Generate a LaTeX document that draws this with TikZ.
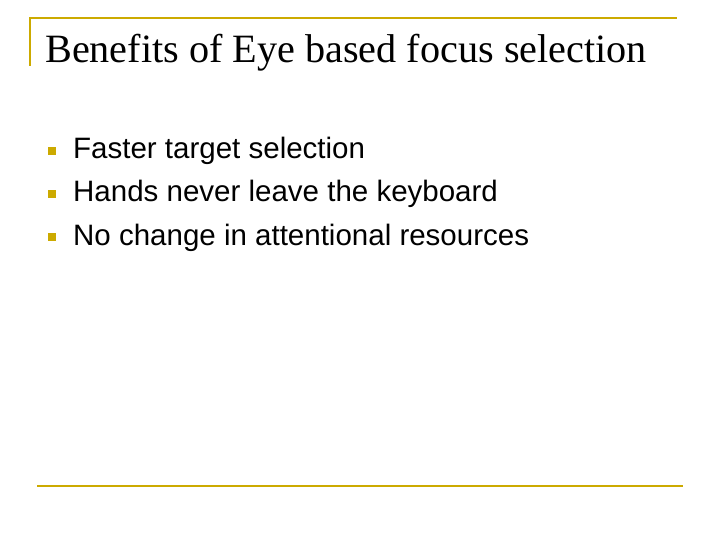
\documentclass[tikz,border=0pt]{standalone}
\usepackage{fontspec}
\setmainfont{Liberation Serif}
\newfontfamily\arial{Liberation Sans}
\definecolor{gold}{RGB}{204,170,0}
\begin{document}
\begin{tikzpicture}[x=1pt,y=-1pt,
  rule/.style={draw=gold,line width=1.5pt},
  bul/.style={fill=gold,minimum size=8pt,inner sep=0pt},
  item/.style={anchor=base west,inner sep=0pt,font=\arial\fontsize{29.5}{33}\selectfont}]
\useasboundingbox (0,0) rectangle (720,540);
\coordinate (t1) at (30,18); \coordinate (t2) at (677,18);
\coordinate (v2) at (30,66);
\coordinate (b1) at (37,486); \coordinate (b2) at (683,486);
\draw[rule] (v2) -- (t1) -- (t2);
\draw[rule] (b1) -- (b2);
\node[anchor=base west,inner sep=0pt,font=\fontsize{40.2}{44}\selectfont] (title) at (45,63) {Benefits of Eye based focus selection};
\node[bul] (s1) at (52,151) {};
\node[bul] (s2) at (52,194) {};
\node[bul] (s3) at (52,237) {};
\node[item] (i1) at (73,159) {Faster target selection};
\node[item] (i2) at (73,202) {Hands never leave the keyboard};
\node[item] (i3) at (73,245) {No change in attentional resources};
\end{tikzpicture}
\end{document}
